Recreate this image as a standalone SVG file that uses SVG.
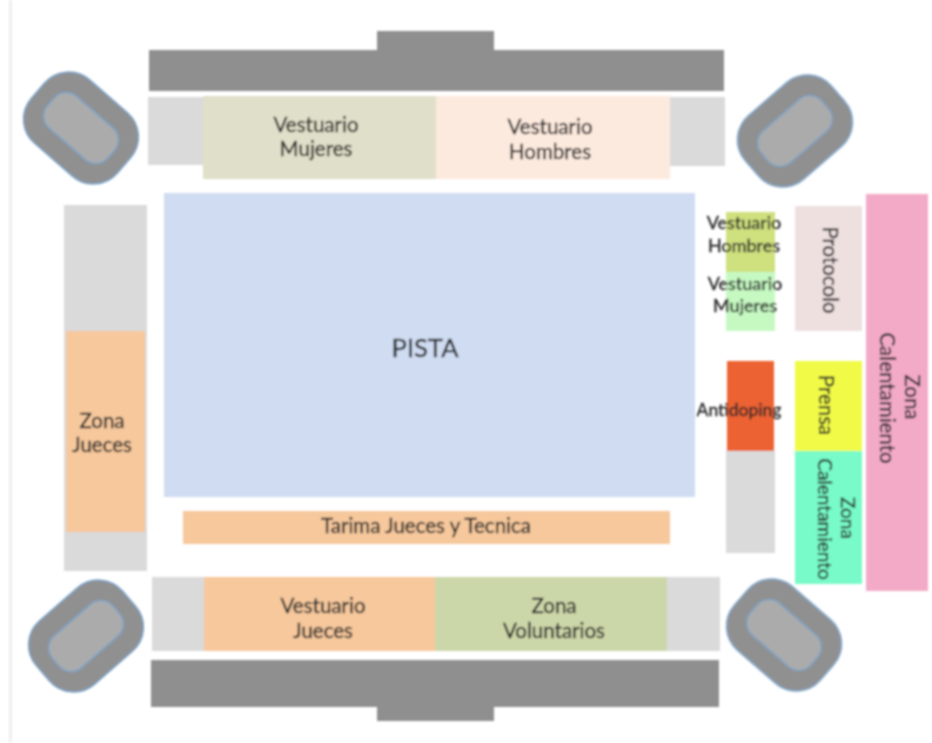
<svg xmlns="http://www.w3.org/2000/svg" width="932" height="743" viewBox="0 0 932 743">
<defs>
<filter id="soft" x="-5%" y="-5%" width="110%" height="110%"><feGaussianBlur stdDeviation="0.8"/></filter>
<g id="oval"><rect x="-57" y="-42" width="114" height="84" rx="32" class="oo"/><rect x="-40" y="-21" width="80" height="42" rx="16" class="oi"/></g>
</defs>
<style>
.oo{fill:#909090;stroke:#7ba3c8;stroke-width:1.5}
.oi{fill:#ababab;stroke:#7ba3c8;stroke-width:1.5}
.d{fill:#8f8f8f}.g{fill:#dadada}
text{font-family:"Lato","Liberation Sans",sans-serif;font-size:20.5px;fill:#2a2a2a;stroke:#2a2a2a;stroke-width:0.35;text-anchor:middle}
.s{font-size:18px}
</style>
<rect width="932" height="743" fill="#fff"/>
<g filter="url(#soft)">
<rect id="margin" x="9" y="0" width="3" height="743" fill="#efefef"/>
<g id="tribuna-norte"><rect class="d" x="377" y="31" width="117" height="25"/><rect class="d" x="149" y="50" width="575" height="41"/></g>
<g id="tribuna-sur"><rect class="d" x="151" y="660" width="568" height="47"/><rect class="d" x="377" y="700" width="117" height="21"/></g>
<g id="esquina-no"><use href="#oval" transform="translate(81 128) rotate(41)"/></g>
<g id="esquina-ne"><use href="#oval" transform="translate(795 131) rotate(-41)"/></g>
<g id="esquina-so"><use href="#oval" transform="translate(86 636) rotate(-41)"/></g>
<g id="esquina-se"><use href="#oval" transform="translate(784 635) rotate(41)"/></g>
<g id="gris-n"><rect class="g" x="148" y="97" width="56" height="68"/><rect class="g" x="669" y="97" width="56" height="69"/></g>
<g id="gris-s"><rect class="g" x="152" y="577" width="53" height="74"/><rect class="g" x="666" y="577" width="54" height="74"/></g>
<g id="vestuario-mujeres"><rect x="203" y="96" width="234" height="83" fill="#e0dfc9"/><text x="316" y="132">Vestuario</text><text x="316" y="156">Mujeres</text></g>
<g id="vestuario-hombres"><rect x="436" y="96" width="234" height="83" fill="#fdeade"/><text x="550" y="134">Vestuario</text><text x="550" y="159">Hombres</text></g>
<g id="pista"><rect x="164" y="193" width="531" height="304" fill="#cfdcf2"/><text x="425" y="357" style="font-size:25.5px">PISTA</text></g>
<g id="zona-jueces"><rect class="g" x="64" y="205" width="83" height="366"/><rect x="66" y="331" width="79" height="201" fill="#f6c89c"/><text x="102" y="428">Zona</text><text x="102" y="452">Jueces</text></g>
<g id="tarima"><rect x="183" y="511" width="487" height="33" fill="#f6c89c"/><text x="426" y="533">Tarima Jueces y Tecnica</text></g>
<g id="vestuario-jueces"><rect x="204" y="577" width="232" height="74" fill="#f6c89c"/><text x="323" y="613">Vestuario</text><text x="323" y="638">Jueces</text></g>
<g id="zona-voluntarios"><rect x="435" y="577" width="232" height="74" fill="#ccd7a9"/><text x="554" y="613">Zona</text><text x="554" y="638">Voluntarios</text></g>
<g id="vestuario-hombres-2"><rect x="726" y="212" width="49" height="60" fill="#cfe07e"/><text x="744" y="229" class="s">Vestuario</text><text x="744" y="252" class="s">Hombres</text></g>
<g id="vestuario-mujeres-2"><rect x="726" y="272" width="49" height="59" fill="#c6f9c2"/><text x="745" y="290" class="s">Vestuario</text><text x="745" y="312" class="s">Mujeres</text></g>
<g id="antidoping"><rect class="g" x="726" y="450" width="49" height="103"/><rect x="727" y="361" width="47" height="90" fill="#ec6233"/><text x="739" y="416" style="font-size:17.5px">Antidoping</text></g>
<g id="protocolo"><rect x="795" y="206" width="67" height="125" fill="#efe0e0"/><text transform="translate(823 270) rotate(90)">Protocolo</text></g>
<g id="prensa"><rect x="795" y="361" width="67" height="90" fill="#f1fb46"/><text transform="translate(819 405) rotate(90)">Prensa</text></g>
<g id="zona-cal-1"><rect x="795" y="451" width="67" height="133" fill="#78fbc8"/><text transform="translate(841 518) rotate(90)" style="font-size:19px">Zona</text><text transform="translate(818 519) rotate(90)" style="font-size:19px">Calentamiento</text></g>
<g id="zona-cal-2"><rect x="866" y="194" width="62" height="397" fill="#f3aac6"/><text transform="translate(905 397) rotate(90)">Zona</text><text transform="translate(880 398) rotate(90)">Calentamiento</text></g>
</g>
<g id="connectors"/>
</svg>
